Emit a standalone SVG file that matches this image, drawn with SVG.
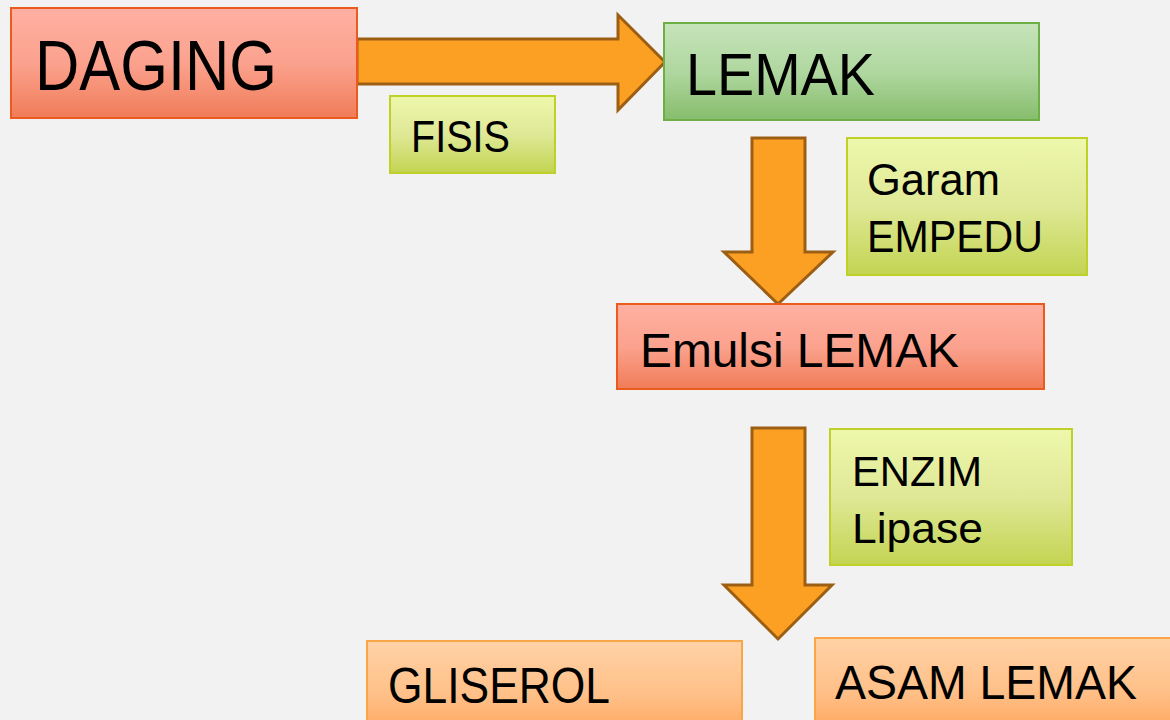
<svg xmlns="http://www.w3.org/2000/svg" width="1170" height="720" viewBox="0 0 1170 720">
<defs>
<linearGradient id="gRed" x1="0" y1="0" x2="0" y2="1"><stop offset="0" stop-color="#FFB0A2"/><stop offset="0.5" stop-color="#FBA28E"/><stop offset="1" stop-color="#F07C58"/></linearGradient>
<linearGradient id="gGreen" x1="0" y1="0" x2="0" y2="1"><stop offset="0" stop-color="#C6E4BA"/><stop offset="0.5" stop-color="#B0D7A0"/><stop offset="1" stop-color="#86BD6C"/></linearGradient>
<linearGradient id="gLime" x1="0" y1="0" x2="0" y2="1"><stop offset="0" stop-color="#EEF8AC"/><stop offset="0.5" stop-color="#DFE896"/><stop offset="1" stop-color="#C3D452"/></linearGradient>
<linearGradient id="gPeach" x1="0" y1="0" x2="0" y2="1"><stop offset="0" stop-color="#FFD2A6"/><stop offset="0.6" stop-color="#FFC088"/><stop offset="1" stop-color="#FFA862"/></linearGradient>
<style>
.red{fill:url(#gRed);stroke:#EC5B1E;stroke-width:2}
.green{fill:url(#gGreen);stroke:#6DAF45;stroke-width:2}
.lime{fill:url(#gLime);stroke:#BFD028;stroke-width:2}
.peach{fill:url(#gPeach);stroke:#F9A548;stroke-width:2}
.arrow{fill:#FCA024;stroke:#9C5E12;stroke-width:3;stroke-linejoin:miter}
text{font-family:"Liberation Sans",Arial,sans-serif;fill:#000}
</style>
</defs>
<rect width="1170" height="720" fill="#F2F2F2"/>
<g id="connectors">
<polygon class="arrow" points="357,39 618,39 618,15 665,62 618,110 618,84 357,84"/>
<polygon class="arrow" points="752,138 805,138 805,252 833,252 778,304 724,252 752,252"/>
<polygon class="arrow" points="752,428 805,428 805,585 832,585 778,639 724,585 752,585"/>
</g>
<g id="daging"><rect class="red" x="11" y="8" width="346" height="110"/><text x="35" y="90" font-size="70" textLength="242" lengthAdjust="spacingAndGlyphs">DAGING</text></g>
<g id="fisis"><rect class="lime" x="390" y="96" width="165" height="77"/><text x="411" y="152" font-size="44" textLength="99" lengthAdjust="spacingAndGlyphs">FISIS</text></g>
<g id="lemak"><rect class="green" x="664" y="23" width="375" height="97"/><text x="686" y="95" font-size="60" textLength="189" lengthAdjust="spacingAndGlyphs">LEMAK</text></g>
<g id="garam"><rect class="lime" x="847" y="138" width="240" height="137"/><text x="867" y="195" font-size="44" textLength="133" lengthAdjust="spacingAndGlyphs">Garam</text><text x="867" y="252" font-size="44" textLength="176" lengthAdjust="spacingAndGlyphs">EMPEDU</text></g>
<g id="emulsi"><rect class="red" x="617" y="304" width="427" height="85"/><text x="640" y="367" font-size="48" textLength="319" lengthAdjust="spacingAndGlyphs">Emulsi LEMAK</text></g>
<g id="enzim"><rect class="lime" x="830" y="429" width="242" height="136"/><text x="852" y="486" font-size="43" textLength="130" lengthAdjust="spacingAndGlyphs">ENZIM</text><text x="852" y="543" font-size="43" textLength="131" lengthAdjust="spacingAndGlyphs">Lipase</text></g>
<g id="gliserol"><rect class="peach" x="367" y="641" width="375" height="90"/><text x="388" y="703" font-size="50" textLength="222" lengthAdjust="spacingAndGlyphs">GLISEROL</text></g>
<g id="asam"><rect class="peach" x="815" y="638" width="370" height="90"/><text x="835" y="699" font-size="48" textLength="302" lengthAdjust="spacingAndGlyphs">ASAM LEMAK</text></g>
</svg>
